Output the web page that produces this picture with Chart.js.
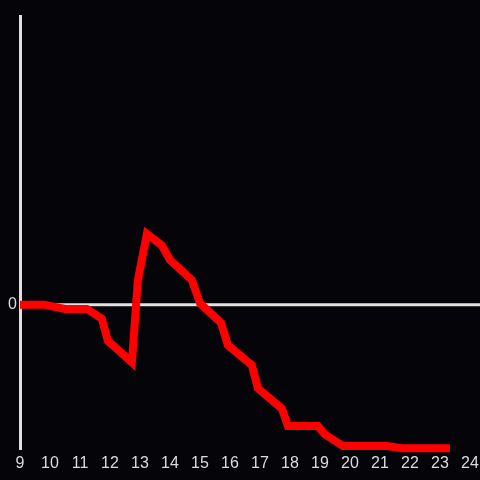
<!DOCTYPE html>
<html>
<head>
<meta charset="utf-8">
<script src="https://cdn.jsdelivr.net/npm/chart.js@4"></script>
<style>
  html, body { margin: 0; padding: 0; background: #050408; }
  #wrap { width: 480px; height: 480px; }
</style>
</head>
<body>
<div id="wrap"><canvas id="c" width="480" height="480"></canvas></div>
<script>
const hours = [9.0, 9.8, 10.5, 11.23, 11.73, 11.93, 12.73, 12.93, 13.23, 13.73, 14.0, 14.73, 15.0, 15.7, 15.93, 16.73, 16.93, 17.73, 17.93, 18.93, 19.17, 19.77, 21.23, 21.73, 23.33];
const values = [0, 0, -0.03, -0.03, -0.097, -0.25, -0.40, 0.17, 0.49, 0.41, 0.31, 0.17, 0.01, -0.125, -0.28, -0.42, -0.58, -0.72, -0.84, -0.84, -0.90, -0.98, -0.98, -0.995, -0.995];
const xTickLabels = [9, 10, 11, 12, 13, 14, 15, 16, 17, 18, 19, 20, 21, 22, 23, 24];
const yTickLabels = [0];

const points = hours.map((h, i) => ({ x: h, y: values[i] }));

const zeroLine = {
  id: 'zeroLine',
  beforeDatasetsDraw(chart) {
    const y = chart.scales.y.getPixelForValue(0);
    const ctx = chart.ctx;
    ctx.save();
    ctx.strokeStyle = '#e0e0e0';
    ctx.lineWidth = 3;
    ctx.beginPath();
    ctx.moveTo(chart.chartArea.left, y);
    ctx.lineTo(chart.width, y);
    ctx.stroke();
    ctx.restore();
  }
};

const bg = {
  id: 'bg',
  beforeDraw(chart) {
    const ctx = chart.ctx;
    ctx.save();
    ctx.fillStyle = '#050408';
    ctx.fillRect(0, 0, chart.width, chart.height);
    ctx.restore();
  }
};

new Chart(document.getElementById('c'), {
  type: 'line',
  data: {
    datasets: [{
      data: points,
      borderColor: '#ff0000',
      borderWidth: 8,
      borderJoinStyle: 'miter',
      borderCapStyle: 'butt',
      pointRadius: 0,
      tension: 0,
      fill: false,
      clip: false
    }]
  },
  options: {
    responsive: false,
    animation: false,
    devicePixelRatio: 1,
    layout: { padding: { top: 16, right: 10, left: 0, bottom: 0 } },
    plugins: { legend: { display: false }, tooltip: { enabled: false } },
    scales: {
      x: {
        type: 'linear',
        min: 9, max: 24,
        grid: { display: false, drawTicks: false },
        border: { display: false },
        afterBuildTicks(scale) { scale.ticks = xTickLabels.map(v => ({ value: v })); },
        afterFit(scale) { scale.height = 31; scale.paddingRight = 0; scale.paddingLeft = 0; },
        ticks: {
          color: '#dcdcdc',
          font: { family: 'Liberation Sans, Arial, sans-serif', size: 16 },
          padding: 5,
          maxRotation: 0,
          autoSkip: false,
          callback: v => String(v)
        }
      },
      y: {
        min: -1, max: 2,
        grid: { display: false, drawTicks: false },
        border: { display: true, color: '#e0e0e0', width: 3 },
        afterBuildTicks(scale) { scale.ticks = yTickLabels.map(v => ({ value: v })); },
        afterFit(scale) { scale.width = 20; scale.paddingTop = 0; scale.paddingBottom = 0; },
        ticks: {
          color: '#dcdcdc',
          font: { family: 'Liberation Sans, Arial, sans-serif', size: 16 },
          padding: 3,
          callback: v => String(v)
        }
      }
    }
  },
  plugins: [bg, zeroLine]
});
</script>
</body>
</html>
